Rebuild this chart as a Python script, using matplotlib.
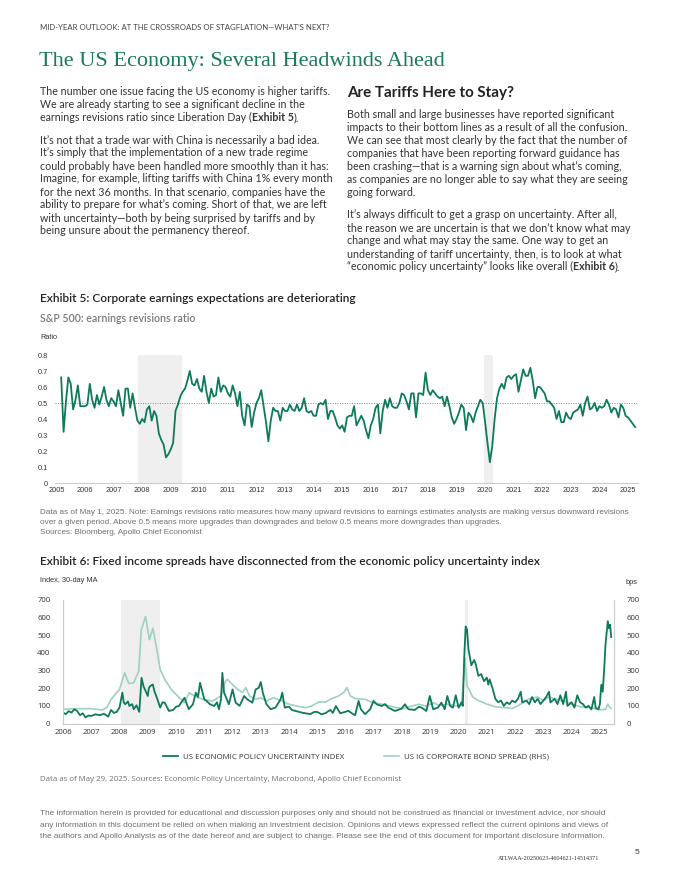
import matplotlib
matplotlib.use('Agg')
import numpy as np
import pandas as pd
from matplotlib import pyplot as plt
from matplotlib.text import Annotation

# %% data

# Exhibit 5: S&P 500 earnings revisions ratio, monthly from Mar 2005
rev_part1 = [0.66, 0.32, 0.51, 0.66, 0.62, 0.46, 0.52, 0.61, 0.48, 0.48,
             0.48, 0.49, 0.62, 0.52, 0.47, 0.55, 0.49, 0.54, 0.60, 0.52,
             0.48, 0.53, 0.51, 0.48, 0.58, 0.50, 0.42, 0.59, 0.59, 0.47,
             0.56, 0.47, 0.39, 0.37, 0.40, 0.38, 0.46, 0.48, 0.39, 0.45,
             0.42, 0.31, 0.27, 0.24, 0.16, 0.18, 0.21, 0.25, 0.45, 0.49,
             0.54, 0.57, 0.59, 0.64, 0.70, 0.62, 0.61, 0.65, 0.59, 0.57,
             0.67, 0.57, 0.50, 0.59, 0.54, 0.55, 0.66, 0.57, 0.61, 0.60,
             0.56, 0.54, 0.61, 0.56, 0.48]
rev_part2 = [0.57, 0.42, 0.36, 0.49, 0.48, 0.35, 0.44, 0.50, 0.53, 0.58,
             0.48, 0.38, 0.26, 0.39, 0.47, 0.45, 0.45, 0.39, 0.47, 0.45,
             0.45, 0.49, 0.46, 0.45, 0.49, 0.45, 0.47, 0.53, 0.45, 0.44,
             0.45, 0.42, 0.42, 0.49, 0.50, 0.49, 0.52, 0.40, 0.45, 0.45,
             0.41, 0.36, 0.34, 0.36, 0.32, 0.41, 0.42, 0.42, 0.48, 0.36,
             0.39, 0.42, 0.39, 0.33, 0.28, 0.36, 0.40, 0.47, 0.49, 0.31,
             0.45, 0.52, 0.47, 0.53, 0.48, 0.47, 0.47, 0.50, 0.56, 0.55,
             0.51, 0.46, 0.56, 0.56, 0.41, 0.56, 0.56, 0.55, 0.69]
rev_part3 = [0.58, 0.55, 0.58, 0.56, 0.54, 0.53, 0.54, 0.48, 0.54, 0.48,
             0.41, 0.37, 0.40, 0.44, 0.49, 0.47, 0.33, 0.44, 0.42, 0.38,
             0.44, 0.48, 0.52, 0.50, 0.38, 0.25, 0.13, 0.23, 0.40, 0.53,
             0.59, 0.62, 0.59, 0.66, 0.67, 0.65, 0.67, 0.68, 0.57, 0.64,
             0.71, 0.67, 0.67, 0.72, 0.64, 0.53, 0.60, 0.60, 0.58, 0.56,
             0.51, 0.51, 0.49, 0.47, 0.40, 0.45, 0.38, 0.38, 0.44, 0.41,
             0.40, 0.44, 0.45, 0.46, 0.49, 0.42, 0.50, 0.54, 0.46, 0.47,
             0.50, 0.45, 0.48, 0.47, 0.48, 0.52, 0.49, 0.44, 0.47, 0.46,
             0.41, 0.49, 0.47, 0.42, 0.41, 0.39, 0.37, 0.35]
rev_ratio = rev_part1 + rev_part2 + rev_part3
rev_dates = pd.date_range('2005-03-01', periods=len(rev_ratio), freq='MS')

# Exhibit 6: US economic policy uncertainty index (30-day MA)
epu_year = [2006.0, 2006.1, 2006.2, 2006.3, 2006.4, 2006.5, 2006.6, 2006.7,
            2006.8, 2006.9, 2007.0, 2007.15, 2007.3, 2007.45, 2007.6, 2007.7,
            2007.8, 2007.9, 2008.0, 2008.1, 2008.15, 2008.2, 2008.3, 2008.35,
            2008.45, 2008.5, 2008.6, 2008.7, 2008.78, 2008.85, 2008.9, 2009.0,
            2009.04, 2009.08, 2009.18, 2009.24, 2009.3, 2009.44, 2009.52, 2009.6,
            2009.75, 2009.9, 2010.0, 2010.1, 2010.3, 2010.45, 2010.6, 2010.7,
            2010.78, 2010.85, 2011.0, 2011.1, 2011.2, 2011.35, 2011.45, 2011.52,
            2011.59, 2011.64, 2011.7, 2011.87, 2012.0, 2012.11, 2012.25, 2012.41,
            2012.52, 2012.7, 2012.82, 2012.93, 2013.0, 2013.07, 2013.2, 2013.35,
            2013.52, 2013.7, 2013.76, 2013.85, 2014.0, 2014.1, 2014.25, 2014.35,
            2014.5, 2014.58, 2014.75, 2014.88, 2014.99, 2015.15, 2015.28, 2015.46,
            2015.55, 2015.66, 2015.81, 2015.99, 2016.1, 2016.22, 2016.34, 2016.46,
            2016.54, 2016.69, 2016.87, 2016.99, 2017.1, 2017.28, 2017.4, 2017.51,
            2017.75, 2017.98, 2018.1, 2018.22, 2018.45, 2018.6, 2018.69, 2018.86,
            2018.98, 2019.1, 2019.27, 2019.39, 2019.51, 2019.6, 2019.7, 2019.8,
            2019.9, 2020.0, 2020.1, 2020.15, 2020.2, 2020.25, 2020.3, 2020.35,
            2020.45, 2020.55, 2020.6, 2020.7, 2020.8, 2020.9, 2021.0, 2021.05,
            2021.1, 2021.2, 2021.3, 2021.4, 2021.5, 2021.6, 2021.7, 2021.8,
            2021.9, 2022.0, 2022.1, 2022.2, 2022.25, 2022.4, 2022.5, 2022.6,
            2022.7, 2022.8, 2022.9, 2023.0, 2023.1, 2023.2, 2023.25, 2023.4,
            2023.5, 2023.6, 2023.7, 2023.8, 2023.85, 2024.0, 2024.1, 2024.2,
            2024.3, 2024.4, 2024.5, 2024.6, 2024.7, 2024.8, 2024.85, 2024.95,
            2025.0, 2025.05, 2025.1, 2025.15, 2025.2, 2025.25, 2025.28, 2025.32,
            2025.36, 2025.4]
epu_value = [62, 53, 70, 62, 80, 71, 47, 58,
             34, 45, 43, 52, 47, 55, 39, 77,
             60, 66, 90, 175, 120, 109, 125, 99,
             110, 81, 103, 66, 259, 210, 193, 156,
             200, 212, 221, 180, 156, 90, 120, 118,
             71, 77, 95, 99, 146, 81, 109, 175,
             150, 231, 137, 125, 109, 99, 120, 81,
             137, 287, 175, 109, 193, 118, 100, 156,
             137, 118, 193, 203, 235, 175, 109, 81,
             90, 137, 175, 90, 95, 77, 70, 66,
             60, 58, 53, 65, 66, 52, 58, 77,
             60, 99, 58, 66, 72, 58, 47, 128,
             81, 53, 81, 128, 109, 99, 110, 90,
             71, 84, 109, 81, 77, 95, 90, 71,
             156, 81, 90, 118, 81, 156, 100, 90,
             160, 90, 120, 100, 380, 550, 530, 420,
             330, 360, 340, 270, 280, 240, 260, 220,
             250, 200, 140, 120, 130, 100, 120, 110,
             130, 120, 140, 180, 120, 130, 110, 150,
             120, 140, 110, 130, 150, 180, 120, 140,
             110, 160, 110, 180, 100, 120, 90, 160,
             120, 110, 90, 100, 80, 150, 90, 80,
             110, 220, 180, 300, 450, 530, 580, 540,
             560, 490]

# Exhibit 6: US IG corporate bond spread, bps (RHS)
spread_year = [2006.0, 2006.5, 2007.0, 2007.4, 2007.55, 2007.7, 2008.0, 2008.18,
               2008.33, 2008.5, 2008.68, 2008.77, 2008.92, 2009.06, 2009.18, 2009.3,
               2009.44, 2009.6, 2009.83, 2010.0, 2010.3, 2010.47, 2010.65, 2010.94,
               2011.3, 2011.59, 2011.75, 2011.82, 2012.11, 2012.35, 2012.47, 2012.6,
               2012.8, 2013.0, 2013.2, 2013.45, 2013.75, 2014.0, 2014.35, 2014.6,
               2014.8, 2015.05, 2015.3, 2015.5, 2015.75, 2015.93, 2016.05, 2016.17,
               2016.35, 2016.7, 2016.95, 2017.3, 2017.65, 2018.0, 2018.35, 2018.6,
               2018.85, 2019.1, 2019.3, 2019.6, 2019.9, 2020.1, 2020.2, 2020.22,
               2020.3, 2020.35, 2020.5, 2020.7, 2021.0, 2021.3, 2021.6, 2021.9,
               2022.1, 2022.3, 2022.5, 2022.8, 2023.0, 2023.2, 2023.4, 2023.6,
               2023.8, 2024.0, 2024.3, 2024.6, 2024.8, 2025.0, 2025.2, 2025.28,
               2025.33, 2025.4]
spread_value = [81, 84, 84, 77, 90, 137, 193, 287,
                227, 231, 297, 531, 606, 475, 540, 437,
                306, 250, 193, 165, 118, 175, 156, 137,
                128, 156, 240, 250, 203, 175, 203, 156,
                137, 146, 128, 146, 128, 109, 96, 90,
                99, 122, 122, 141, 156, 175, 203, 156,
                141, 137, 118, 109, 96, 84, 99, 109,
                99, 118, 103, 109, 100, 100, 300, 370,
                210, 200, 150, 130, 110, 95, 90, 85,
                100, 120, 140, 150, 130, 150, 140, 130,
                125, 110, 95, 90, 85, 78, 80, 110,
                95, 85]

GREEN = '#0d7a5c'
LIGHT = '#9fd0c0'
SHADE = '#efefef'
TEXT = '#333333'
GREY = '#6f6f6f'

BODY = ['Lato', 'DejaVu Sans']
NARROW = ['Liberation Sans Narrow', 'Liberation Sans', 'DejaVu Sans']
CHART6 = ['Open Sans', 'DejaVu Sans']
BODY_SIZE = 7.7

fig = plt.figure(figsize=(6.8, 8.8), dpi=100)


def px(x, y):
    # pixel position on the 680x880 page -> figure fraction
    return x / 680, 1 - y / 880


def rich_line(x, y, parts, size, color=TEXT, family=BODY):
    first, w = parts[0]
    t = fig.text(*px(x, y), first, fontsize=size, color=color,
                 family=family, weight=w, va='baseline')
    for s, w in parts[1:]:
        t = fig.add_artist(Annotation(s, xy=(1, 0), xycoords=t, va='bottom',
                                      fontsize=size, color=color,
                                      family=family, weight=w,
                                      annotation_clip=False))


# %% page text

fig.text(*px(40, 30), 'MID-YEAR OUTLOOK: AT THE CROSSROADS OF STAGFLATION\u2014WHAT\u2019S NEXT?',
         fontsize=5.6, color='#444444', family=BODY, va='baseline')
fig.text(*px(39, 66), 'The US Economy: Several Headwinds Ahead', fontsize=16,
         color='#197a5c', family=['Liberation Serif'], va='baseline')

left_lines = [
    "The number one issue facing the US economy is higher tariffs.",
    "We are already starting to see a significant decline in the",
    None,
    "",
    "It\u2019s not that a trade war with China is necessarily a bad idea.",
    "It\u2019s simply that the implementation of a new trade regime",
    "could probably have been handled more smoothly than it has:",
    "Imagine, for example, lifting tariffs with China 1% every month",
    "for the next 36 months. In that scenario, companies have the",
    "ability to prepare for what\u2019s coming. Short of that, we are left",
    "with uncertainty\u2014both by being surprised by tariffs and by",
    "being unsure about the permanency thereof.",
]
y = 95
for line in left_lines:
    if line is None:
        rich_line(40, y, [("earnings revisions ratio since Liberation Day (", 'normal'),
                          ("Exhibit 5", 'bold'), (").", 'normal')], BODY_SIZE)
    elif line:
        fig.text(*px(40, y), line, fontsize=BODY_SIZE, color=TEXT, family=BODY, va='baseline')
    y += 13 if line != "" else 9.5

fig.text(*px(347, 97), 'Are Tariffs Here to Stay?', fontsize=10.9, weight='bold',
         color='#222222', family=BODY, va='baseline')

right_lines = [
    "Both small and large businesses have reported significant",
    "impacts to their bottom lines as a result of all the confusion.",
    "We can see that most clearly by the fact that the number of",
    "companies that have been reporting forward guidance has",
    "been crashing\u2014that is a warning sign about what\u2019s coming,",
    "as companies are no longer able to say what they are seeing",
    "going forward.",
    "",
    "It\u2019s always difficult to get a grasp on uncertainty. After all,",
    "the reason we are uncertain is that we don\u2019t know what may",
    "change and what may stay the same. One way to get an",
    "understanding of tariff uncertainty, then, is to look at what",
    None,
]
y = 118
for line in right_lines:
    if line is None:
        rich_line(347, y, [("\u201ceconomic policy uncertainty\u201d looks like overall (", 'normal'),
                           ("Exhibit 6", 'bold'), (").", 'normal')], BODY_SIZE)
    elif line:
        fig.text(*px(347, y), line, fontsize=BODY_SIZE, color=TEXT, family=BODY, va='baseline')
    y += 13 if line != "" else 9.5

# %% Exhibit 5

fig.text(*px(40, 302), 'Exhibit 5: Corporate earnings expectations are deteriorating',
         fontsize=8.6, weight='semibold', color='#222222', family=BODY, va='baseline')
fig.text(*px(40, 322), 'S&P 500: earnings revisions ratio', fontsize=7.7,
         weight='semibold', color='#7a7a7a', family=BODY, va='baseline')
fig.text(*px(40, 339), 'Ratio', fontsize=5.3, color=TEXT, family=NARROW, va='baseline')

rev_x = rev_dates.year + (rev_dates.month - 1) / 12

ax1 = fig.add_axes([55 / 680, 1 - 483 / 880, 583 / 680, 128 / 880])
ax1.axvspan(2007.85, 2009.4, color=SHADE, lw=0, zorder=0)
ax1.axvspan(2019.95, 2020.27, color=SHADE, lw=0, zorder=0)
ax1.axhline(0.5, color='#888888', lw=0.7, ls=(0, (1, 1.5)), zorder=1)
ax1.plot(rev_x, rev_ratio, color=GREEN, lw=1.3, zorder=2)
ax1.set_xlim(2004.95, 2025.35)
ax1.set_ylim(0, 0.8)
ax1.set_xticks(range(2005, 2026))
ax1.set_yticks(np.arange(0, 0.81, 0.1))
ax1.set_yticklabels(['0'] + ['%.1f' % v for v in np.arange(0.1, 0.81, 0.1)])
for s in ['top', 'right', 'left']:
    ax1.spines[s].set_visible(False)
ax1.spines['bottom'].set_color('#cccccc')
ax1.spines['bottom'].set_linewidth(0.8)
ax1.tick_params(length=0, labelsize=5.3, colors=TEXT, pad=3)
ax1.tick_params(axis='y', pad=5)
for lab in ax1.get_xticklabels() + ax1.get_yticklabels():
    lab.set_family(NARROW)

notes5 = [
    "Data as of May 1, 2025. Note: Earnings revisions ratio measures how many upward revisions to earnings estimates analysts are making versus downward revisions",
    "over a given period. Above 0.5 means more upgrades than downgrades and below 0.5 means more downgrades than upgrades.",
    "Sources: Bloomberg, Apollo Chief Economist",
]
for i, line in enumerate(notes5):
    fig.text(*px(40, 514 + i * 10), line, fontsize=5.82, color=GREY, family=NARROW, va='baseline')

# %% Exhibit 6

fig.text(*px(40, 565), 'Exhibit 6: Fixed income spreads have disconnected from the economic policy uncertainty index',
         fontsize=8.6, weight='semibold', color='#222222', family=BODY, va='baseline')
fig.text(*px(40, 582), 'Index, 30-day MA', fontsize=5.3, color=TEXT, family=NARROW, va='baseline')
fig.text(*px(638, 584), 'bps', fontsize=5.3, color=TEXT, family=NARROW, va='baseline', ha='right')

ax2 = fig.add_axes([63 / 680, 1 - 723.5 / 880, 551 / 680, 123.5 / 880])
ax2.axvspan(2008.05, 2009.42, color=SHADE, lw=0, zorder=0)
ax2.axvspan(2020.22, 2020.34, color=SHADE, lw=0, zorder=0)
l_spread, = ax2.plot(spread_year, spread_value, color=LIGHT, lw=1.2, zorder=2)
l_epu, = ax2.plot(epu_year, epu_value, color=GREEN, lw=1.3, zorder=3)
ax2.set_xlim(2006, 2025.5)
ax2.set_ylim(0, 700)
ax2.set_xticks(range(2006, 2026))
ax2.set_yticks(range(0, 701, 100))
ax2r = ax2.twinx()
ax2r.set_ylim(0, 700)
ax2r.set_yticks(range(0, 701, 100))
for a in (ax2, ax2r):
    a.spines['top'].set_visible(False)
    for s in ['left', 'right', 'bottom']:
        a.spines[s].set_color('#cccccc')
        a.spines[s].set_linewidth(0.8)
    a.tick_params(length=0, labelsize=5.6, colors=TEXT, pad=4)
    for lab in a.get_xticklabels() + a.get_yticklabels():
        lab.set_family(CHART6)
ax2.tick_params(axis='y', pad=9)
ax2r.tick_params(axis='y', pad=9)

fig.legend([l_epu, l_spread],
           ['US ECONOMIC POLICY UNCERTAINTY INDEX', 'US IG CORPORATE BOND SPREAD (RHS)'],
           loc='center', bbox_to_anchor=px(356, 757), ncol=2, frameon=False,
           prop={'family': CHART6, 'size': 5.7}, handlelength=1.9,
           handletextpad=0.65, columnspacing=5.0, labelcolor=TEXT)

fig.text(*px(40, 781), 'Data as of May 29, 2025. Sources: Economic Policy Uncertainty, Macrobond, Apollo Chief Economist',
         fontsize=5.65, color=GREY, family=CHART6, va='baseline')

# %% footer

footer = [
    "The information herein is provided for educational and discussion purposes only and should not be construed as financial or investment advice, nor should",
    "any information in this document be relied on when making an investment decision. Opinions and views expressed reflect the current opinions and views of",
    "the authors and Apollo Analysts as of the date hereof and are subject to change. Please see the end of this document for important disclosure information.",
]
for i, line in enumerate(footer):
    fig.text(*px(40, 815 + i * 11.5), line, fontsize=5.92, color=GREY, family=NARROW, va='baseline')
fig.text(*px(639, 854), '5', fontsize=6, color=TEXT, family=NARROW, va='baseline', ha='right')
fig.text(*px(599, 860), 'ATLWAA-20250623-4604621-14514371', fontsize=4.4, color=TEXT,
         family=['Liberation Serif'], va='baseline', ha='right')

fig.savefig('out.png', dpi=100)
